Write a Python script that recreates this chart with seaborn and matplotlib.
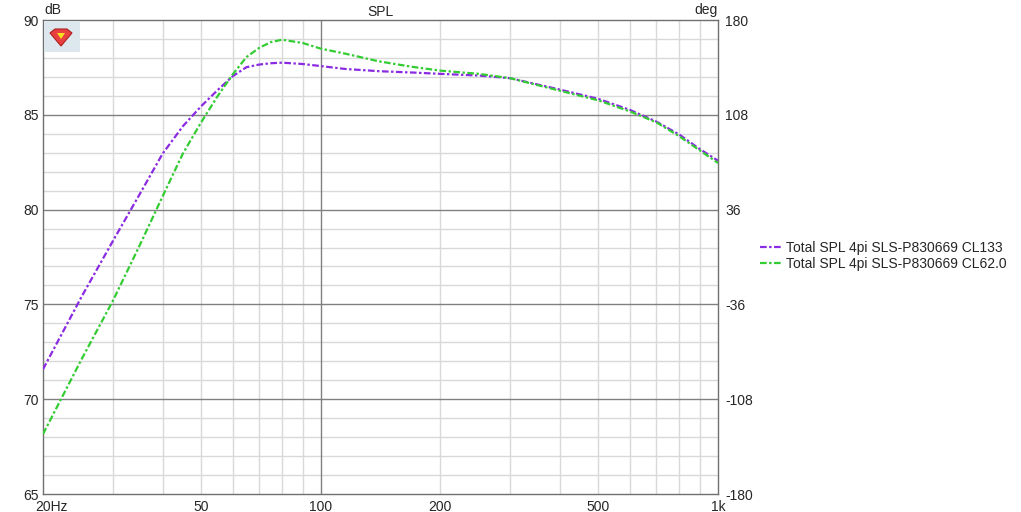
import matplotlib
matplotlib.use("Agg")
import matplotlib.pyplot as plt
import matplotlib.transforms as mtransforms
from matplotlib.patches import Rectangle, Polygon
import seaborn as sns
import pandas as pd

sns.set_style("white")
plt.rcParams['font.family'] = ['Liberation Sans', 'DejaVu Sans']
plt.rcParams['axes.unicode_minus'] = False

# valores (Hz, dB)
freq = [20, 25, 30, 35, 40, 45, 50, 55, 60, 65, 70, 75, 80, 90, 100, 115, 140, 170,
        200, 250, 300, 400, 500, 600, 700, 800, 900, 1000]
spl_cl133 = [71.58, 75.4, 78.35, 80.8, 82.95, 84.4, 85.45, 86.3, 87.03, 87.51, 87.65, 87.72,
             87.75, 87.68, 87.57, 87.42, 87.3, 87.23, 87.16, 87.07, 86.93, 86.33, 85.84,
             85.26, 84.64, 83.95, 83.19, 82.58]
spl_cl62 = [68.16, 72.1, 75.2, 78.1, 80.7, 82.96, 84.6, 85.98, 87.12, 88.04, 88.53, 88.84,
            88.96, 88.79, 88.49, 88.23, 87.82, 87.53, 87.33, 87.16, 86.93, 86.27, 85.76,
            85.18, 84.6, 83.86, 83.12, 82.46]
series_names = ["Total SPL 4pi SLS-P830669 CL133", "Total SPL 4pi SLS-P830669 CL62.0"]
series_colors = ["#8a2be2", "#33cc33"]

x_labels = ["20Hz", "50", "100", "200", "500", "1k"]
x_label_pos = [20, 50, 100, 200, 500, 1000]
db_ticks = [65, 70, 75, 80, 85, 90]
deg_ticks = [-180, -108, -36, 36, 108, 180]

df = pd.DataFrame({
    "Freq": freq * 2,
    "SPL": spl_cl133 + spl_cl62,
    "Serie": [series_names[0]] * len(freq) + [series_names[1]] * len(freq),
})

fig = plt.figure(figsize=(10.21, 5.12), dpi=100)
ax = fig.add_axes([43 / 1021, 1 - 494 / 512, 675 / 1021, 474 / 512])

# rejilla
minor_x = [30, 40, 50, 60, 70, 80, 90, 200, 300, 400, 500, 600, 700, 800, 900]
for xv in minor_x:
    ax.axvline(xv, color="#d9d9d9", lw=1, zorder=0)
ax.axvline(100, color="#808080", lw=1, zorder=0.5)
for yv in range(66, 90):
    if yv % 5 == 0:
        ax.axhline(yv, color="#808080", lw=1, zorder=0.5)
    else:
        ax.axhline(yv, color="#d9d9d9", lw=1, zorder=0)

for name, col in zip(series_names, series_colors):
    sub = df[df["Serie"] == name]
    sns.lineplot(data=sub, x="Freq", y="SPL", ax=ax, color=col, lw=1.6,
                 dashes=False, label=name, zorder=3)
for line in ax.get_lines()[-2:]:
    line.set_dashes((3, 1.1, 1.1, 1.1))

ax.set_xscale("log")
ax.set_xlim(20, 1000)
ax.set_ylim(65, 90)
ax.set_xticks(x_label_pos, x_labels)
ax.xaxis.set_minor_locator(matplotlib.ticker.NullLocator())
ax.set_yticks(db_ticks)
ax.set_xlabel("")
ax.set_ylabel("")
ax.tick_params(axis="both", length=0, labelsize=10, pad=3)
ax.tick_params(axis="x", pad=4)
lbl0 = ax.get_xticklabels()[0]
lbl0.set_transform(lbl0.get_transform() + mtransforms.ScaledTranslation(9 / 100, 0, fig.dpi_scale_trans))

for sp in ax.spines.values():
    sp.set_color("#707070")
    sp.set_linewidth(1)

ax2 = ax.twinx()
ax2.set_ylim(-180, 180)
ax2.set_yticks(deg_ticks)
ax2.tick_params(axis="y", length=0, labelsize=10, pad=5)
for sp in ax2.spines.values():
    sp.set_visible(False)

ax.set_title("SPL", fontsize=10, pad=3)
fig.text(44 / 1021, 1 - 10 / 512, "dB", fontsize=10, va="center", ha="left")
fig.text(718 / 1021, 1 - 10 / 512, "deg", fontsize=10, va="center", ha="right")

# logo
fig.patches.append(Rectangle((44 / 1021, 1 - 52 / 512), 36 / 1021, 31 / 512,
                             transform=fig.transFigure, facecolor="#dde8ee", edgecolor="none", zorder=5))
shield = [(50, 33), (55, 29), (67, 29), (72, 33), (61, 46)]
fig.patches.append(Polygon([(px / 1021, 1 - py / 512) for px, py in shield], closed=True,
                           transform=fig.transFigure, facecolor="#e84040", edgecolor="#b02020", lw=0.8, zorder=6))
inner = [(57, 33), (65, 33), (61, 39)]
fig.patches.append(Polygon([(px / 1021, 1 - py / 512) for px, py in inner], closed=True,
                           transform=fig.transFigure, facecolor="#f5e020", edgecolor="none", zorder=7))

handles, labels = ax.get_legend_handles_labels()
ax.legend_.remove()
fig.legend(handles, labels, loc="center left", bbox_to_anchor=(760 / 1021, 1 - 256 / 512),
           frameon=False, fontsize=10, handlelength=1.6, handletextpad=0.3, labelspacing=0.15,
           borderaxespad=0, borderpad=0)

fig.savefig("out.png", dpi=100)
